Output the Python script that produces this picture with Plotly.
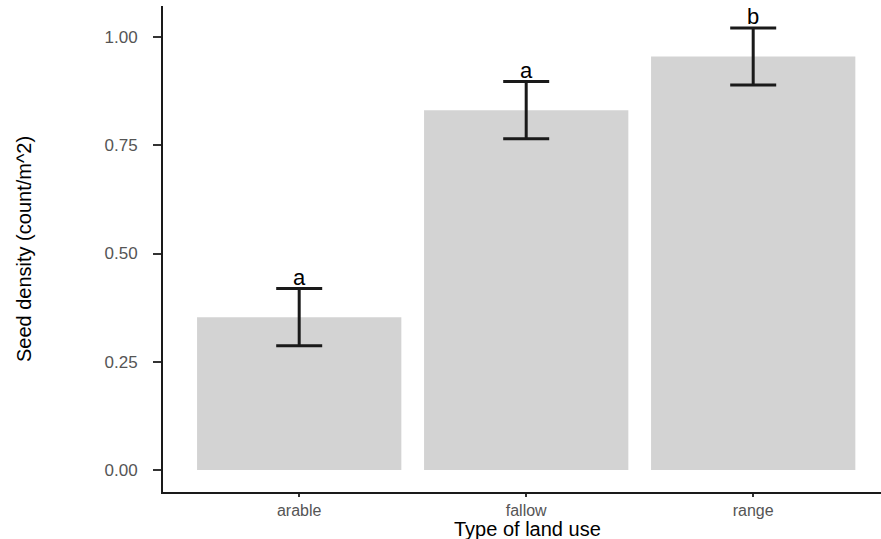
import plotly.graph_objects as go

# Seed density by land-use type (mean ± SE) with significance letters
land_use = ["arable", "fallow", "range"]
density_mean = [0.353, 0.831, 0.955]
density_se = [0.066, 0.066, 0.066]
group_letters = ["a", "a", "b"]

y_ticks = [0.00, 0.25, 0.50, 0.75, 1.00]
y_tick_text = ["0.00", "0.25", "0.50", "0.75", "1.00"]

fig = go.Figure()

fig.add_trace(go.Bar(
    x=land_use,
    y=density_mean,
    width=0.9,
    marker=dict(color="#D3D3D3", line=dict(width=0)),
    error_y=dict(
        type="data",
        array=density_se,
        color="#1a1a1a",
        thickness=3,
        width=23,
    ),
    showlegend=False,
))

# letters sit on top of the upper error-bar caps
for cat, m, se, lab in zip(land_use, density_mean, density_se, group_letters):
    fig.add_annotation(
        x=cat, y=m + se, text=lab, showarrow=False,
        yanchor="bottom", yshift=-3,
        font=dict(family="Liberation Sans, Arial, sans-serif", size=22, color="black"),
    )

# x-axis title placed just under the category labels
fig.add_annotation(
    xref="paper", yref="paper", x=0.507, y=0,
    xanchor="center", yanchor="top", yshift=-24,
    text="Type of land use", showarrow=False,
    font=dict(family="Liberation Sans, Arial, sans-serif", size=20, color="black"),
)

fig.update_layout(
    width=881,
    height=539,
    margin=dict(l=163, r=0, t=6, b=47),
    paper_bgcolor="white",
    plot_bgcolor="white",
    font=dict(family="Liberation Sans, Arial, sans-serif"),
    bargap=0.1,
)

fig.update_xaxes(
    range=[-0.6, 2.563],
    showline=True, linecolor="#1a1a1a", linewidth=2,
    ticks="outside", ticklen=3, tickwidth=2, tickcolor="#333333",
    tickfont=dict(size=16, color="#555555"),
    showgrid=False, zeroline=False,
)

fig.update_yaxes(
    range=[-0.0508, 1.0716],
    tickvals=y_ticks, ticktext=y_tick_text,
    showline=True, linecolor="#1a1a1a", linewidth=2,
    ticks="outside", ticklen=8, tickwidth=2, tickcolor="#333333",
    ticklabelstandoff=12,
    tickfont=dict(size=17, color="#555555"),
    showgrid=False, zeroline=False,
    title=dict(text="Seed density (count/m^2)", font=dict(size=20, color="black"), standoff=68),
)

fig.write_html("out.html")
